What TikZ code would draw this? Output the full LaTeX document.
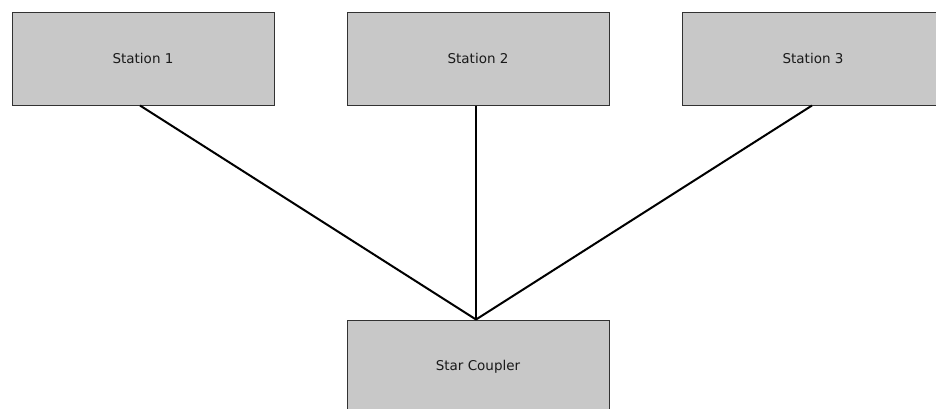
\documentclass[tikz,border=0pt]{standalone}
\usepackage{fontspec}
\setmainfont{DejaVu Sans}
\definecolor{boxfill}{RGB}{200,200,200}
\definecolor{boxline}{RGB}{50,50,50}
\definecolor{txt}{RGB}{25,25,25}
\begin{document}
\begin{tikzpicture}[x=1pt,y=-1pt,
  station/.style={draw=boxline,line width=1pt,fill=boxfill,rectangle,
    minimum width=262pt,minimum height=93pt,inner sep=0pt,
    font=\fontsize{13.5}{16}\selectfont,text=txt},
  link/.style={line width=2pt,draw=black}]
\useasboundingbox (0,0) rectangle (936,408);
\clip (0,0) rectangle (936,408);
\fill[white] (0,0) rectangle (936,408);
\node[station] (s1) at (143,58.5) {Station 1};
\node[station] (s2) at (478,58.5) {Station 2};
\node[station] (s3) at (813,58.5) {Station 3};
\node[station] (sc) at (478,366.5) {Star Coupler};
\draw[link] ([xshift=-3pt]s1.south) -- ([xshift=-2pt]sc.north);
\draw[link] ([xshift=-2pt]s2.south) -- ([xshift=-2pt]sc.north);
\draw[link] ([xshift=-1pt]s3.south) -- ([xshift=-2pt]sc.north);
\end{tikzpicture}
\end{document}
